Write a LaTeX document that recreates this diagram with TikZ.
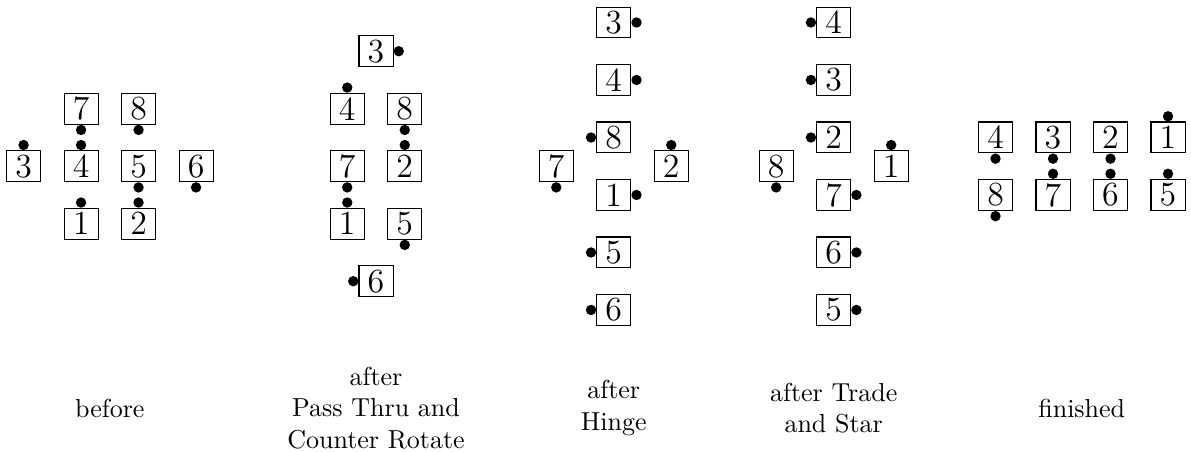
\documentclass[tikz,border=0pt]{standalone}
\usepackage{tikz}

\begin{document}
\begin{tikzpicture}[
      x=11.058pt, y=11.058pt,
      blk/.style={draw, inner sep=0pt, minimum width=13.1pt, minimum height=11.9pt,
                  font=\fontsize{13}{15}\selectfont},
      panelLabel/.style={align=center, inner sep=0pt}
    ]

    \useasboundingbox (0,-4.939) rectangle (41.43,10.783);

    % radius of the marker dots
    \def\dr{2pt}

    % -------- before --------
    \begin{scope}[shift={(0.82,0)}]
      \node[blk] (a3) at (0,5) {3};
      \node[blk] (a7) at (2,7) {7};
      \node[blk] (a4) at (2,5) {4};
      \node[blk] (a1) at (2,3) {1};
      \node[blk] (a8) at (4,7) {8};
      \node[blk] (a5) at (4,5) {5};
      \node[blk] (a2) at (4,3) {2};
      \node[blk] (a6) at (6,5) {6};

      \fill ([yshift=\dr]a3.north) circle (\dr);
      \fill ([yshift=-\dr]a7.south) circle (\dr);
      \fill ([yshift=\dr]a4.north) circle (\dr);
      \fill ([yshift=\dr]a1.north) circle (\dr);
      \fill ([yshift=-\dr]a8.south) circle (\dr);
      \fill ([yshift=-\dr]a5.south) circle (\dr);
      \fill ([yshift=\dr]a2.north) circle (\dr);
      \fill ([yshift=-\dr]a6.south) circle (\dr);

      \node[panelLabel] (aLbl) at (3,-3.41) {before};
    \end{scope}

    % -------- after Pass Thru and Counter Rotate --------
    \begin{scope}[shift={(12.08,0)}]
      \node[blk] (b3) at (1,9) {3};
      \node[blk] (b4) at (0,7) {4};
      \node[blk] (b8) at (2,7) {8};
      \node[blk] (b7) at (0,5) {7};
      \node[blk] (b2) at (2,5) {2};
      \node[blk] (b1) at (0,3) {1};
      \node[blk] (b5) at (2,3) {5};
      \node[blk] (b6) at (1,1) {6};

      \fill ([xshift=\dr]b3.east) circle (\dr);
      \fill ([yshift=\dr]b4.north) circle (\dr);
      \fill ([yshift=-\dr]b8.south) circle (\dr);
      \fill ([yshift=-\dr]b7.south) circle (\dr);
      \fill ([yshift=\dr]b2.north) circle (\dr);
      \fill ([yshift=\dr]b1.north) circle (\dr);
      \fill ([yshift=-\dr]b5.south) circle (\dr);
      \fill ([xshift=-\dr]b6.west) circle (\dr);

      \node[panelLabel] (bLbl) at (1,-3.41) {after\\Pass Thru and\\Counter Rotate};
    \end{scope}

    % -------- after Hinge --------
    \begin{scope}[shift={(19.35,0)}]
      \node[blk] (c3) at (2,10) {3};
      \node[blk] (c4) at (2,8) {4};
      \node[blk] (c8) at (2,6) {8};
      \node[blk] (c7) at (0,5) {7};
      \node[blk] (c2) at (4,5) {2};
      \node[blk] (c1) at (2,4) {1};
      \node[blk] (c5) at (2,2) {5};
      \node[blk] (c6) at (2,0) {6};

      \fill ([xshift=\dr]c3.east) circle (\dr);
      \fill ([xshift=\dr]c4.east) circle (\dr);
      \fill ([xshift=-\dr]c8.west) circle (\dr);
      \fill ([yshift=-\dr]c7.south) circle (\dr);
      \fill ([yshift=\dr]c2.north) circle (\dr);
      \fill ([xshift=\dr]c1.east) circle (\dr);
      \fill ([xshift=-\dr]c5.west) circle (\dr);
      \fill ([xshift=-\dr]c6.west) circle (\dr);

      \node[panelLabel] (cLbl) at (2,-3.41) {after\\Hinge};
    \end{scope}

    % -------- after Trade and Star --------
    \begin{scope}[shift={(27,0)}]
      \node[blk] (d4) at (2,10) {4};
      \node[blk] (d3) at (2,8) {3};
      \node[blk] (d2) at (2,6) {2};
      \node[blk] (d8) at (0,5) {8};
      \node[blk] (d1) at (4,5) {1};
      \node[blk] (d7) at (2,4) {7};
      \node[blk] (d6) at (2,2) {6};
      \node[blk] (d5) at (2,0) {5};

      \fill ([xshift=-\dr]d4.west) circle (\dr);
      \fill ([xshift=-\dr]d3.west) circle (\dr);
      \fill ([xshift=-\dr]d2.west) circle (\dr);
      \fill ([yshift=-\dr]d8.south) circle (\dr);
      \fill ([yshift=\dr]d1.north) circle (\dr);
      \fill ([xshift=\dr]d7.east) circle (\dr);
      \fill ([xshift=\dr]d6.east) circle (\dr);
      \fill ([xshift=\dr]d5.east) circle (\dr);

      \node[panelLabel] (dLbl) at (2,-3.41) {after Trade\\and Star};
    \end{scope}

    % -------- finished --------
    \begin{scope}[shift={(34.63,0)}]
      \node[blk] (e4) at (0,6) {4};
      \node[blk] (e3) at (2,6) {3};
      \node[blk] (e2) at (4,6) {2};
      \node[blk] (e1) at (6,6) {1};
      \node[blk] (e8) at (0,4) {8};
      \node[blk] (e7) at (2,4) {7};
      \node[blk] (e6) at (4,4) {6};
      \node[blk] (e5) at (6,4) {5};

      \fill ([yshift=-\dr]e4.south) circle (\dr);
      \fill ([yshift=-\dr]e3.south) circle (\dr);
      \fill ([yshift=-\dr]e2.south) circle (\dr);
      \fill ([yshift=\dr]e1.north) circle (\dr);
      \fill ([yshift=-\dr]e8.south) circle (\dr);
      \fill ([yshift=\dr]e7.north) circle (\dr);
      \fill ([yshift=\dr]e6.north) circle (\dr);
      \fill ([yshift=\dr]e5.north) circle (\dr);

      \node[panelLabel] (eLbl) at (3,-3.41) {finished};
    \end{scope}

\end{tikzpicture}
\end{document}
